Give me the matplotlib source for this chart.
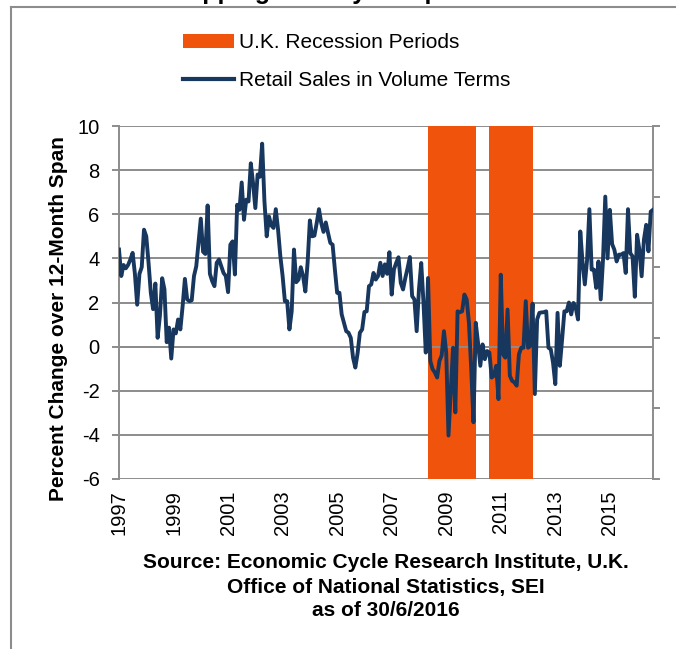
import numpy as np
import matplotlib.pyplot as plt
from matplotlib.patches import Patch
from matplotlib.lines import Line2D

plt.rcParams['font.family'] = ['Liberation Sans', 'DejaVu Sans']
plt.rcParams['axes.unicode_minus'] = False

# monthly % change over 12-month span, starting Jan 1997
start_year = 1997
retail_sales = [
    4.4, 3.2, 3.7, 3.55, 3.7, 3.95, 4.25, 3.3, 1.9, 3.3, 3.6, 5.3,
    5.0, 3.8, 2.44, 1.7, 2.86, 0.4, 1.4, 3.1, 2.6, 0.2, 0.86, -0.54,
    0.78, 0.6, 1.23, 0.78, 1.84, 3.07, 2.14, 2.06, 2.1, 3.2, 3.64, 4.7,
    5.8, 4.3, 4.2, 6.4, 3.3, 2.97, 2.74, 3.8, 3.95, 3.64, 3.34, 3.2,
    2.47, 4.62, 4.77, 3.27, 6.43, 6.2, 7.44, 5.75, 6.66, 6.58, 8.31, 7.4,
    6.28, 7.8, 7.7, 9.2, 6.6, 5.0, 5.9, 5.5, 5.38, 6.23, 5.3, 4.1,
    3.2, 2.06, 2.06, 0.78, 1.6, 4.4, 2.92, 3.04, 3.6, 3.2, 2.5, 3.8,
    5.72, 5.0, 5.03, 5.6, 6.23, 5.6, 5.2, 5.63, 5.15, 4.7, 4.62, 3.5,
    2.44, 2.44, 1.46, 1.08, 0.7, 0.63, 0.4, -0.5, -0.95, -0.3, 0.63, 0.78,
    1.57, 1.6, 2.74, 2.82, 3.34, 3.04, 3.2, 3.8, 3.2, 3.73, 3.3, 4.28,
    2.36, 3.5, 3.8, 4.05, 2.89, 2.59, 3.11, 3.56, 4.06, 2.29, 2.14, 0.7,
    2.59, 3.79, 1.99, -0.27, 3.11, -0.65, -1.02, -1.17, -1.4, -0.65, -0.4, 0.7,
    -0.27, -4.03, -2.08, -0.05, -2.98, 1.6, 1.56, 1.6, 2.36, 2.14, 1.08, -1.0,
    -3.43, 1.08, 0.18, -0.87, 0.1, -0.57, -0.2, -0.27, -1.4, -1.32, -0.87, -2.38,
    3.26, -0.35, -0.5, 1.68, -1.32, -1.55, -1.62, -1.77, -0.35, -0.05, -0.05, 2.06,
    -0.05, 0.03, 1.95, -2.15, 1.23, 1.53, 1.55, 1.56, 1.6, -0.05, -0.12, -0.72,
    -1.7, 1.53, -0.87, 0.33, 1.6, 1.6, 2.0, 1.46, 1.98, 1.76, 1.23, 5.22,
    3.8, 2.82, 3.94, 6.23, 3.49, 3.49, 2.66, 3.86, 2.14, 3.94, 6.8, 4.0,
    6.2, 4.65, 4.39, 3.86, 4.17, 4.17, 4.24, 3.34, 6.23, 4.24, 4.09, 2.26,
    5.07, 4.39, 3.19, 4.84, 5.52, 4.32, 6.12, 6.2,
]
tick_years = list(range(1997, 2016, 2))
# U.K. recession periods (year, month) start / end
recession_starts = [(2008, 5), (2010, 8)]
recession_ends = [(2010, 2), (2012, 3)]

source_lines = [
    'Source: Economic Cycle Research Institute, U.K.',
    'Office of National Statistics, SEI',
    'as of 30/6/2016',
]


def month_index(year, month):
    return (year - start_year) * 12 + (month - 1)


navy = '#17375e'
orange = '#f0540c'
grey = '#8c8c8c'

fig = plt.figure(figsize=(6.76, 6.49), dpi=100)
ax = fig.add_axes([119 / 676, 1 - 479 / 649, (653 - 119) / 676, (479 - 126) / 649])

months = np.arange(len(retail_sales))

ax.set_axisbelow(True)
ax.yaxis.grid(True, color=grey, lw=1.4)
for (sy, sm), (ey, em) in zip(recession_starts, recession_ends):
    ax.axvspan(month_index(sy, sm), month_index(ey, em), color=orange, lw=0, zorder=1)
ax.axhline(0, color=grey, lw=1.4, zorder=2)
ax.plot(months, retail_sales, color=navy, lw=2.8, zorder=3,
        solid_joinstyle='round')

ax.set_xlim(0, 235)
ax.set_ylim(-6, 10)
ax.set_yticks(range(-6, 11, 2))
ax.set_xticks([month_index(y, 1) for y in tick_years])
ax.set_xticklabels([str(y) for y in tick_years], rotation=90)
ax.tick_params(axis='y', labelsize=14.5, length=5, width=1.4, color=grey, pad=9)
ax.tick_params(axis='x', labelsize=14.5, length=0, pad=8)

for side in ['top', 'bottom']:
    ax.spines[side].set_visible(False)
for side in ['left', 'right']:
    ax.spines[side].set_color(grey)
    ax.spines[side].set_linewidth(1.4)

# secondary axis: unlabelled ticks on the right
ax2 = ax.twinx()
ax2.set_ylim(0, 5)
ax2.set_yticks(range(6))
ax2.tick_params(axis='y', labelright=False, length=5, width=1.4, color=grey)
for side in ax2.spines:
    ax2.spines[side].set_visible(False)

fig.text(59 / 676, 1 - 319 / 649, 'Percent Change over 12-Month Span',
         rotation=90, ha='center', va='center', fontsize=15, fontweight='bold')

for i, line in enumerate(source_lines):
    fig.text(386 / 676, 1 - (563 + 24 * i) / 649, line, ha='center', va='center',
             fontsize=15, fontweight='bold')

# title sits above the frame, mostly cut off
fig.text(0.5, 1 + 1 / 649, 'Shopping Activity Jumps Back', ha='center',
         va='baseline', fontsize=18, fontweight='bold')

handles = [Patch(facecolor=orange, edgecolor='none', label='U.K. Recession Periods'),
           Line2D([], [], color=navy, lw=3, label='Retail Sales in Volume Terms')]
fig.legend(handles=handles, loc='upper left', bbox_to_anchor=(183 / 676, 1 - 33 / 649),
           frameon=False, fontsize=15, handlelength=2.45, handleheight=0.66,
           handletextpad=0.25, labelspacing=0.9, borderpad=0, borderaxespad=0)

# outer frame (left and top edges visible)
fig.add_artist(Line2D([11 / 676, 11 / 676], [0, 1 - 7 / 649], color=grey, lw=1.5,
                      transform=fig.transFigure))
fig.add_artist(Line2D([11 / 676, 1], [1 - 7 / 649, 1 - 7 / 649], color=grey, lw=1.5,
                      transform=fig.transFigure))

fig.savefig('out.png', dpi=100)
